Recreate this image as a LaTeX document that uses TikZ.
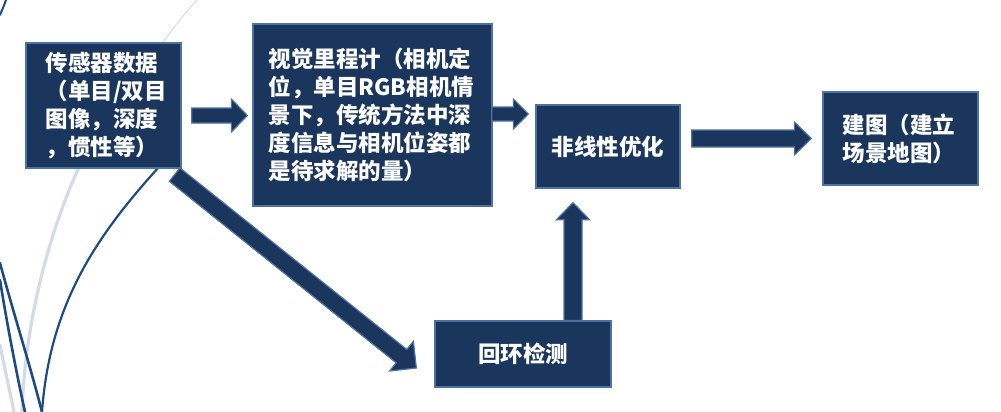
\documentclass[tikz,border=0pt]{standalone}
\usepackage{fontspec}
\newfontfamily\cjk{Noto Sans CJK SC}
\usetikzlibrary{calc}
\definecolor{navy}{HTML}{1B365D}
\definecolor{edgeblue}{HTML}{4E72A4}
\definecolor{curvedark}{HTML}{1F4A85}
\definecolor{curvelight}{HTML}{D2DBE7}
\tikzset{
  box/.style={draw=edgeblue, line width=1.3pt, fill=navy, text=white,
    font=\cjk\bfseries\fontsize{22.5}{28}\selectfont, inner sep=0pt},
  barrowstyle/.style={draw=edgeblue, line width=1.2pt, fill=navy, line join=miter},
  darkcurve/.style={draw=curvedark, line width=2.6pt, line cap=round},
  lightcurve/.style={draw=curvelight, line width=3.2pt, line cap=round},
}
\newcommand{\blockarrow}[5]{%
  \coordinate (hb) at ($(#2)!#5!(#1)$);
  \draw[barrowstyle] ($(#1)!#3!90:(#2)$) -- ($(hb)!#3!90:(#2)$) -- ($(hb)!#4!90:(#2)$)
    -- (#2) -- ($(hb)!#4!-90:(#2)$) -- ($(hb)!#3!-90:(#2)$) -- ($(#1)!#3!-90:(#2)$) -- cycle;
}
\begin{document}
\begin{tikzpicture}[x=1pt,y=-1pt]
\useasboundingbox (0,0) rectangle (1001,412);
% decorative curves
\draw[curvelight, line width=1pt] (197,0) .. controls (175,24) and (160,45) .. (140,80);
\draw[lightcurve] (80,165) .. controls (50,230) and (25,320) .. (22,412);
\draw[lightcurve] (0,345) .. controls (5,370) and (10,392) .. (14,412);
\draw[darkcurve, line width=2pt] (6,0) .. controls (4,6) and (2,10) .. (0,15);
\draw[darkcurve] (0,263) .. controls (14,315) and (30,365) .. (42,412);
\draw[darkcurve] (0,280) .. controls (8,330) and (18,380) .. (25,412);
\draw[darkcurve, line width=2.2pt] (170,155) .. controls (100,230) and (50,300) .. (42,412);
% boxes
\node[box, minimum width=155, minimum height=125, text width=116, align=left] (sensor) at (103.5,105.5)
  {传感器数据\\（单目/双目\\图像，深度\\，惯性等）};
\node[box, minimum width=239, minimum height=182, text width=208, align=left] (vo) at (372.5,115)
  {视觉里程计（相机定\\位，单目RGB相机情\\景下，传统方法中深\\度信息与相机位姿都\\是待求解的量）};
\node[box, minimum width=144, minimum height=83] (opt) at (608,146.5) {非线性优化};
\node[box, minimum width=155, minimum height=93, text width=116, align=left] (map) at (900.5,138.5)
  {建图（建立\\场景地图）};
\node[box, minimum width=176, minimum height=66] (loop) at (523,354) {回环检测};
% arrow end points
\coordinate (a1s) at ($(sensor.east)+(10,10)$);
\coordinate (a1e) at ($(vo.west)+(-5,0.5)$);
\coordinate (a2s) at ($(vo.east)+(-1,-1)$);
\coordinate (a2e) at ($(opt.west)+(-7,-32.5)$);
\coordinate (a3s) at ($(opt.east)+(11,-8)$);
\coordinate (a3e) at ($(map.west)+(-11,0)$);
\coordinate (a4s) at ($(loop.north)+(50,0)$);
\coordinate (a4e) at ($(opt.south)+(-35,14)$);
\coordinate (a5s) at ($(sensor.south east)+(-7,6)$);
\coordinate (a5e) at ($(loop.west)+(-18,14)$);
\blockarrow{a1s}{a1e}{7.5pt}{16.5pt}{16pt}
\blockarrow{a2s}{a2e}{7pt}{15pt}{15pt}
\blockarrow{a3s}{a3e}{8.5pt}{16.5pt}{17pt}
\blockarrow{a4s}{a4e}{9pt}{16.5pt}{17pt}
\blockarrow{a5s}{a5e}{8.5pt}{19pt}{19pt}
\end{tikzpicture}
\end{document}
